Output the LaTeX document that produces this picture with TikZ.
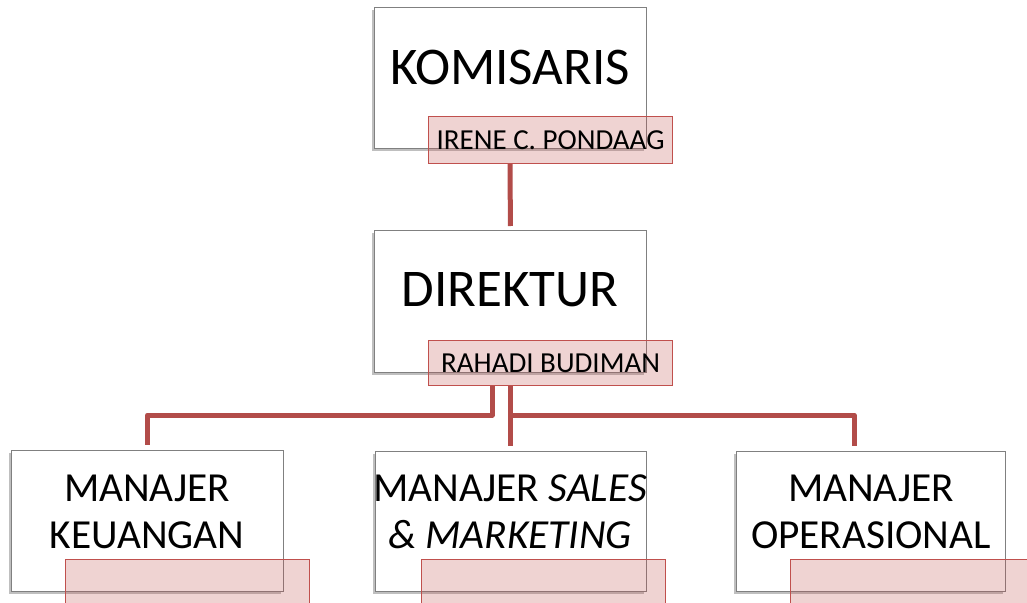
\documentclass[tikz,border=0pt]{standalone}
\usepackage{fontspec}
\setmainfont{Carlito}
\usetikzlibrary{shadows}
\definecolor{accent}{RGB}{192,80,77}
\definecolor{connc}{RGB}{178,76,73}
\definecolor{boxline}{RGB}{128,128,128}
\tikzset{
  whitebox/.style={draw=boxline, line width=0.9pt, fill=white, rectangle, inner sep=0pt, anchor=north west,
    drop shadow={shadow xshift=-2pt, shadow yshift=-3pt, opacity=0.25, fill=black}},
  namebox/.style={draw=accent, line width=1.2pt, fill=accent, fill opacity=0.25, text opacity=1, rectangle, inner sep=0pt, anchor=north west, font=\fontsize{29}{32}\selectfont},
  bigtxt/.style={font=\fontsize{53}{60}\selectfont, inner sep=0pt},
  midtxt/.style={font=\fontsize{41.3}{47}\selectfont, inner sep=0pt, align=center},
  conn/.style={draw=connc, line width=5pt, line join=round}
}
\begin{document}
\begin{tikzpicture}[x=1pt,y=-1pt]
\useasboundingbox (0,0) rectangle (1027,602);
\clip (0,0) rectangle (1027,602);
% top
\node[whitebox, minimum width=272pt, minimum height=141pt] (kom) at (374,7) {};
\node[bigtxt] (komT) at (510,67) {KOMISARIS};
\node[namebox, minimum width=244pt, minimum height=47pt] (irene) at (428,116) {IRENE C. PONDAAG};
% direktur
\node[whitebox, minimum width=272pt, minimum height=142pt] (dir) at (374,230) {};
\node[bigtxt] (dirT) at (510,290) {DIREKTUR};
\node[namebox, minimum width=244pt, minimum height=45pt] (rahadi) at (428,340) {RAHADI BUDIMAN};
% bottom
\node[whitebox, minimum width=272pt, minimum height=141pt] (m1) at (11,450) {};
\node[midtxt] (m1T) at (147,512) {MANAJER\\KEUANGAN};
\node[namebox, minimum width=244pt, minimum height=47pt] (n1) at (65,559) {};
\node[whitebox, minimum width=271pt, minimum height=140pt] (m2) at (375,451) {};
\node[midtxt] (m2T) at (510,512) {MANAJER \textit{SALES}\\\textit{\& MARKETING}};
\node[namebox, minimum width=244pt, minimum height=47pt] (n2) at (421,559) {};
\node[whitebox, minimum width=269pt, minimum height=140pt] (m3) at (736,451) {};
\node[midtxt] (m3T) at (871,512) {MANAJER\\OPERASIONAL};
\node[namebox, minimum width=244pt, minimum height=47pt] (n3) at (790,559) {};
% connectors
\coordinate (c0) at (510,0);
\coordinate (c1) at (492,0);
\coordinate (c2) at (510,0);
\coordinate (c3) at (854,0);
\coordinate (hy) at (0,415);
\draw[conn, shorten >=4pt] (irene.south -| c0) -- (dir.north);
\draw[conn, shorten >=5pt] (rahadi.south -| c1) -- (hy -| c1) -| (m1.north);
\draw[conn, shorten >=5pt] (rahadi.south -| c2) -- (m2.north -| c2);
\draw[conn, shorten >=5pt] (hy -| c2) -| (m3.north -| c3);
\end{tikzpicture}
\end{document}
